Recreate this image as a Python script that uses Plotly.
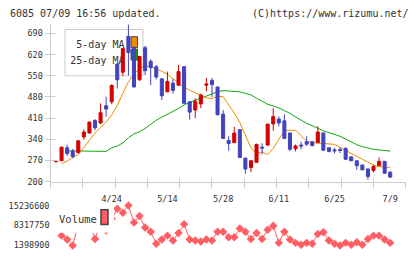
import plotly.graph_objects as go

W, H = 420, 259

# ---------------- data ----------------
tick_idx = [10, 20, 30, 40, 50, 60]
tick_text = ["4/24", "5/14", "5/28", "6/11", "6/25", "7/9"]
price_ticks = [200, 270, 340, 410, 480, 550, 620, 690]
vol_ticks = [1398900, 8317750, 15236600]

open_ = [266, 269, 312, 301, 296, 348, 361, 402, 394, 451, 464, 589, 562, 681, 643, 537,
         643, 598, 580, 540, 497, 526, 519, 580, 464, 437, 457, 519, 535, 513, 423, 336,
         329, 372, 278, 247, 264, 314, 321, 391, 407, 401, 361, 309, 321, 332, 332, 329,
         361, 312, 305, 306, 310, 282, 269, 255, 242, 237, 253, 267, 231]
high = [268, 316, 322, 308, 337, 373, 399, 407, 459, 481, 522, 590, 642, 719, 648, 616,
        649, 605, 586, 541, 564, 540, 586, 582, 465, 475, 491, 543, 543, 514, 437, 350,
        381, 373, 279, 270, 326, 327, 392, 443, 416, 423, 362, 323, 332, 350, 334, 383,
        362, 313, 312, 314, 314, 283, 270, 256, 243, 256, 280, 268, 236]
low = [265, 268, 285, 277, 293, 339, 359, 370, 391, 415, 456, 508, 549, 551, 513, 533,
       552, 519, 538, 470, 496, 491, 518, 459, 405, 410, 443, 499, 480, 421, 342, 302,
       328, 279, 226, 231, 262, 290, 319, 369, 383, 342, 301, 300, 307, 318, 317, 328,
       302, 297, 294, 294, 273, 268, 239, 238, 206, 231, 252, 226, 213]
close = [267, 314, 293, 283, 335, 364, 397, 378, 428, 440, 518, 537, 640, 627, 513, 614,
         567, 577, 546, 484, 531, 502, 564, 459, 430, 466, 486, 523, 521, 421, 343, 326,
         361, 280, 242, 269, 323, 311, 390, 415, 394, 343, 307, 318, 318, 324, 319, 364,
         304, 300, 302, 303, 274, 269, 253, 239, 217, 250, 267, 228, 215]

ma5 = [None, 259, 268, 280, 290, 313, 338, 361, 379, 397, 421, 452, 492, 530, 555, 575,
       584, 580, 572, 565, 555, 540, 523, 511, 503, 493, 487, 477, 475, 482, 481, 456,
       427, 395, 355, 312, 293, 298, 290, 310, 340, 368, 370, 370, 352, 334, 329, 328,
       328, 325, 323, 313, 303, 292, 282, 274, 265, 255, 250, 249, 247]
ma25 = [None, None, 302, 302, 302, 302, 302, 302, 300, 300, 312, 318, 328, 345, 358, 365,
        376, 390, 403, 413, 422, 431, 442, 454, 463, 470, 476, 482, 490, 498, 501, 500,
        499, 497, 492, 487, 476, 465, 456, 450, 444, 435, 426, 414, 403, 393, 385, 376,
        368, 362, 356, 350, 341, 332, 322, 316, 311, 307, 305, 303, 301]

volume = [8.0e6, 4.69e6, 3.28e6, 1.18e6, 8.7e6, 11.0e6, 9.3e6, 3.52e6, 9.0e6, 6.5e6,
          10.7e6, 14.29e6, 12.88e6, 15.46e6, 9.37e6, 11.71e6, 7.62e6, 6.09e6, 1.76e6, 3.28e6,
          4.69e6, 2.93e6, 5.62e6, 8.79e6, 3.28e6, 2.93e6, 2.58e6, 3.28e6, 2.93e6, 6.09e6,
          6.09e6, 4.10e6, 4.10e6, 7.26e6, 6.09e6, 3.52e6, 5.62e6, 3.52e6, 6.80e6, 8.20e6,
          2.11e6, 6.09e6, 3.28e6, 2.11e6, 1.41e6, 2.11e6, 1.76e6, 5.27e6, 5.86e6, 2.93e6,
          1.76e6, 1.18e6, 2.11e6, 1.41e6, 2.35e6, 1.41e6, 3.52e6, 4.69e6, 4.69e6, 3.28e6,
          2.11e6]

idx = list(range(len(close)))

# ---------------- layout geometry (pixels) ----------------
X0, X1 = 50.5, 405.7
MAIN_TOP, MAIN_BOT = 24.0, 185.3
VOL_TOP, VOL_BOT = 204.0, 253.0
XR = [-0.987, 62.78]
YR = [197.4, 722.6]
VR = [-111300, 17098000]


def fx(px):
    return px / W


def fy(py):
    return 1 - py / H


def px2x(px):
    return XR[0] + (px - X0) / (X1 - X0) * (XR[1] - XR[0])


def py2y(py):
    return YR[1] - (py - MAIN_TOP) / (MAIN_BOT - MAIN_TOP) * (YR[1] - YR[0])


MONO = "DejaVu Sans Mono"
TXT = "#333333"
AX = "#cccccc"
RED = "#d40000"
BLUE = "#4343bd"
ORANGE = "#f08c00"
GREEN = "#10a810"
VOLC = "#ff5f64"

fig = go.Figure()

# MA lines (base subplot, below candles)
fig.add_trace(go.Scatter(x=idx, y=ma25, mode="lines", line=dict(color=GREEN, width=1),
                         xaxis="x", yaxis="y", hoverinfo="skip", showlegend=False))
fig.add_trace(go.Scatter(x=idx, y=ma5, mode="lines", line=dict(color=ORANGE, width=1),
                         xaxis="x", yaxis="y", hoverinfo="skip", showlegend=False))
# legend text (below candles)
fig.add_trace(go.Scatter(x=[px2x(124.5), px2x(124.5)], y=[py2y(46), py2y(62.7)],
                         text=["5-day MA", "25-day MA"], mode="text",
                         textposition="middle left",
                         textfont=dict(family=MONO, size=10, color=TXT),
                         xaxis="x", yaxis="y", hoverinfo="skip", showlegend=False))

# candles on overlay axis (drawn above)
fig.add_trace(go.Candlestick(
    x=idx, open=open_, high=high, low=low, close=close,
    increasing=dict(line=dict(color=RED, width=1), fillcolor=RED),
    decreasing=dict(line=dict(color=BLUE, width=1), fillcolor=BLUE),
    whiskerwidth=0, xaxis="x", yaxis="y3", hoverinfo="skip", showlegend=False))

# volume
fig.add_trace(go.Scatter(x=idx, y=volume, mode="lines+markers",
                         line=dict(color=VOLC, width=1),
                         marker=dict(symbol="diamond", size=6.5, color=VOLC),
                         cliponaxis=False,
                         xaxis="x2", yaxis="y2", hoverinfo="skip", showlegend=False))

# dummy traces for the fixed-spacing x tick marks
for ax in ["x4", "x5"]:
    fig.add_trace(go.Scatter(x=[0], y=[300], mode="markers", marker=dict(opacity=0),
                             xaxis=ax, yaxis="y", hoverinfo="skip", showlegend=False))

xdom = [fx(X0), fx(X1)]
common_off = dict(showgrid=False, zeroline=False)

fig.update_layout(
    width=W, height=H, autosize=False,
    margin=dict(l=0, r=0, t=0, b=0),
    paper_bgcolor="white", plot_bgcolor="rgba(0,0,0,0)",
    boxgap=0.22,
    showlegend=False,
    xaxis=dict(domain=xdom, range=XR, anchor="y", tickvals=tick_idx, ticktext=tick_text,
               ticks="", showline=True, linecolor=AX, linewidth=1, ticklabelstandoff=8,
               tickfont=dict(family=MONO, size=8.5, color=TXT),
               rangeslider=dict(visible=False), **common_off),
    yaxis=dict(domain=[fy(MAIN_BOT), fy(MAIN_TOP)], range=YR, anchor="x",
               tickvals=price_ticks, ticks="outside", ticklen=5, tickcolor=AX,
               showline=True, linecolor=AX, linewidth=1,
               tickfont=dict(family=MONO, size=8.5, color=TXT), **common_off),
    yaxis3=dict(overlaying="y", range=YR, anchor="x", side="left", tickvals=price_ticks,
                ticks="inside", ticklen=5, tickcolor=AX, showticklabels=False,
                showline=False, **common_off),
    xaxis4=dict(overlaying="x", anchor="y", range=[0, 11], tickvals=list(range(12)),
                ticks="outside", ticklen=5, tickcolor=AX, showticklabels=False,
                showline=False, **common_off),
    xaxis5=dict(overlaying="x", anchor="y", range=[0, 11], tickvals=list(range(12)),
                ticks="inside", ticklen=4, tickcolor=AX, showticklabels=False,
                showline=False, **common_off),
    xaxis2=dict(domain=xdom, range=XR, anchor="y2", visible=False, **common_off),
    yaxis2=dict(domain=[fy(VOL_BOT), fy(VOL_TOP)], range=VR, anchor="x2",
                tickvals=vol_ticks, ticktext=[str(v) for v in vol_ticks],
                ticks="", showline=False,
                tickfont=dict(family=MONO, size=8.5, color=TXT), **common_off),
)

shapes = [
    # main legend frame (below candles)
    dict(type="rect", xref="paper", yref="paper", x0=fx(65), x1=fx(143), y0=fy(77), y1=fy(30),
         line=dict(color=AX, width=1), fillcolor="white", layer="below"),
    dict(type="rect", xref="paper", yref="paper", x0=fx(131), x1=fx(137.5), y0=fy(48.3), y1=fy(37.3),
         line=dict(color="#444444", width=1), fillcolor=ORANGE, layer="below"),
    dict(type="rect", xref="paper", yref="paper", x0=fx(131), x1=fx(137.5), y0=fy(61), y1=fy(50),
         line=dict(color="#444444", width=1), fillcolor=GREEN, layer="below"),
    # volume legend (above data)
    dict(type="rect", xref="paper", yref="paper", x0=fx(50), x1=fx(114), y0=fy(236.5), y1=fy(206),
         line=dict(width=0), fillcolor="white", layer="above"),
    dict(type="rect", xref="paper", yref="paper", x0=fx(101), x1=fx(108), y0=fy(228), y1=fy(213),
         line=dict(color="#444444", width=1.5), fillcolor=VOLC, layer="above"),
]
fig.update_layout(shapes=shapes)

annotations = [
    dict(text="6085 07/09 16:56 updated.", xref="paper", yref="paper", x=fx(8), y=fy(13.3),
         xanchor="left", yanchor="middle", showarrow=False,
         font=dict(family=MONO, size=10, color=TXT)),
    dict(text="(C)https://www.rizumu.net/", xref="paper", yref="paper", x=fx(411), y=fy(13.3),
         xanchor="right", yanchor="middle", showarrow=False,
         font=dict(family=MONO, size=10, color=TXT)),
    dict(text="Volume", xref="paper", yref="paper", x=fx(57), y=fy(222.3),
         xanchor="left", yanchor="middle", showarrow=False,
         font=dict(family=MONO, size=10.5, color=TXT)),
]
fig.update_layout(annotations=annotations)

fig.write_html("out.html")
